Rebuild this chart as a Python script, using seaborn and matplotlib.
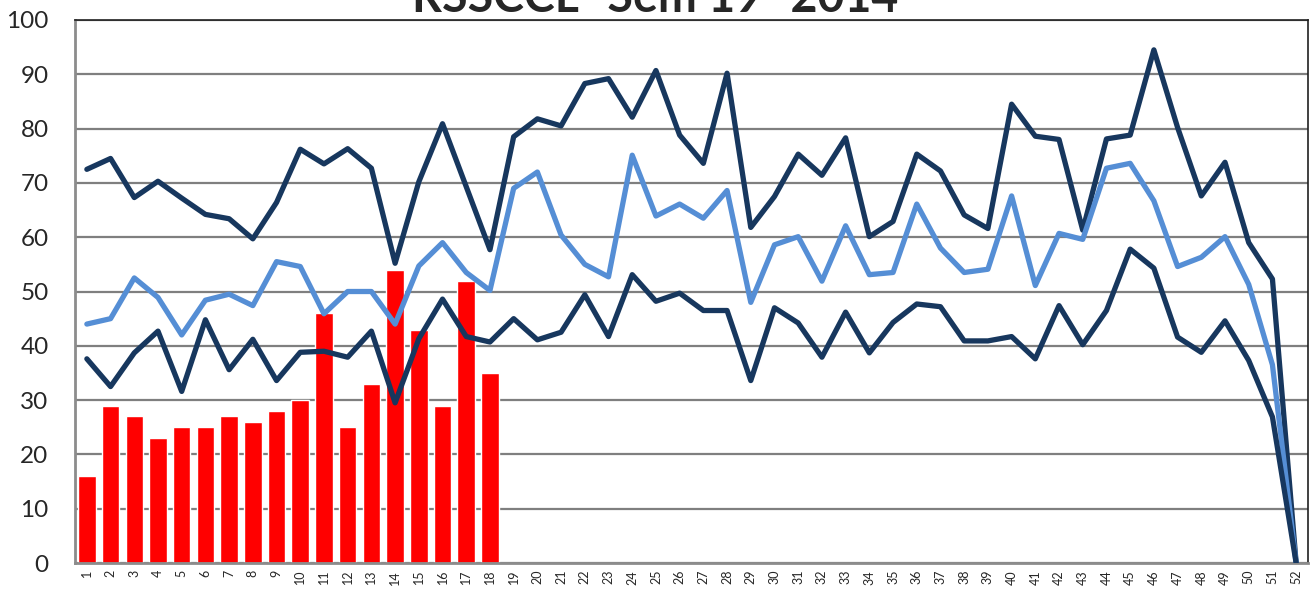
import numpy as np
import pandas as pd
import seaborn as sns
import matplotlib.pyplot as plt

weeks = list(range(1, 53))

# red bars: current year, weeks 1-18
bars = [16, 29, 27, 23, 25, 25, 27, 26, 28, 30, 46, 25, 33, 54, 43, 29, 52, 35]

upper = [72.5, 74.5, 67.3, 70.3, 67.2, 64.2, 63.4, 59.7, 66.4, 76.2,
         73.5, 76.3, 72.7, 55.2, 70.2, 80.9, 69.3, 57.7, 78.5, 81.8,
         80.5, 88.3, 89.2, 82.1, 90.7, 78.8, 73.6, 90.2, 61.8, 67.5,
         75.3, 71.4, 78.3, 60.1, 62.9, 75.3, 72.2, 64.1, 61.6, 84.5,
         78.6, 78.0, 61.3, 78.1, 78.8, 94.5, 80.2, 67.6, 73.8, 59.0,
         52.3, 0]

middle = [44.0, 45.0, 52.5, 48.9, 42.0, 48.4, 49.5, 47.4, 55.5, 54.6,
          45.9, 50.0, 50.0, 44.0, 54.7, 59.0, 53.5, 50.2, 69.0, 72.0,
          60.4, 55.0, 52.7, 75.1, 63.9, 66.1, 63.5, 68.6, 48.0, 58.6,
          60.1, 51.9, 62.1, 53.1, 53.5, 66.1, 58.0, 53.5, 54.1, 67.6,
          51.1, 60.7, 59.6, 72.7, 73.6, 66.7, 54.6, 56.3, 60.1, 51.3,
          36.5, 0]

lower = [37.6, 32.5, 38.7, 42.7, 31.6, 44.8, 35.6, 41.2, 33.6, 38.8,
         39.0, 37.9, 42.7, 29.5, 41.3, 48.6, 41.7, 40.7, 45.0, 41.1,
         42.5, 49.4, 41.7, 53.1, 48.2, 49.7, 46.5, 46.5, 33.6, 47.0,
         44.2, 37.9, 46.2, 38.7, 44.3, 47.7, 47.2, 40.9, 40.9, 41.7,
         37.6, 47.4, 40.2, 46.5, 57.8, 54.3, 41.6, 38.8, 44.6, 37.3,
         26.9, 0]

bar_df = pd.DataFrame({'week': weeks[:len(bars)], 'value': bars})

sns.set_style('white')
plt.rcParams['font.family'] = ['Lato', 'DejaVu Sans']

fig = plt.figure(figsize=(13.1, 6.01), dpi=100)
ax = fig.add_axes([75 / 1310, 38 / 601, 1233 / 1310, 543 / 601])

navy = '#17375E'
light = '#558ED5'

sns.barplot(data=bar_df, x='week', y='value', native_scale=True, width=0.74,
            color='#FF0000', saturation=1, ax=ax, zorder=2)
sns.lineplot(x=weeks, y=upper, color=navy, lw=3.8, ax=ax, zorder=3)
sns.lineplot(x=weeks, y=middle, color=light, lw=3.8, ax=ax, zorder=3)
sns.lineplot(x=weeks, y=lower, color=navy, lw=3.8, ax=ax, zorder=3)

ax.set_xlim(0.5, 52.5)
ax.set_ylim(0, 100)
ax.set_yticks(range(0, 101, 10))
ax.set_xticks(weeks)
ax.set_xticklabels([str(w) for w in weeks], rotation=90, fontsize=9)
ax.tick_params(axis='y', labelsize=17.5, length=0, pad=19)
ax.tick_params(axis='x', length=0, pad=5)
ax.set_xlabel('')
ax.set_ylabel('')

ax.yaxis.grid(True, color='#7F7F7F', lw=1.6, zorder=0)
ax.set_axisbelow(True)
for side in ['left', 'bottom']:
    ax.spines[side].set_color('#8C8C8C')
    ax.spines[side].set_linewidth(2)
for side in ['top', 'right']:
    ax.spines[side].set_color('#202020')
    ax.spines[side].set_linewidth(1.2)

fig.text(0.5, 1 - 12 / 601, 'RSSCCL- Sem 19- 2014', ha='center', va='baseline',
         fontsize=33.5, fontweight='bold')

fig.savefig('out.png', dpi=100)
